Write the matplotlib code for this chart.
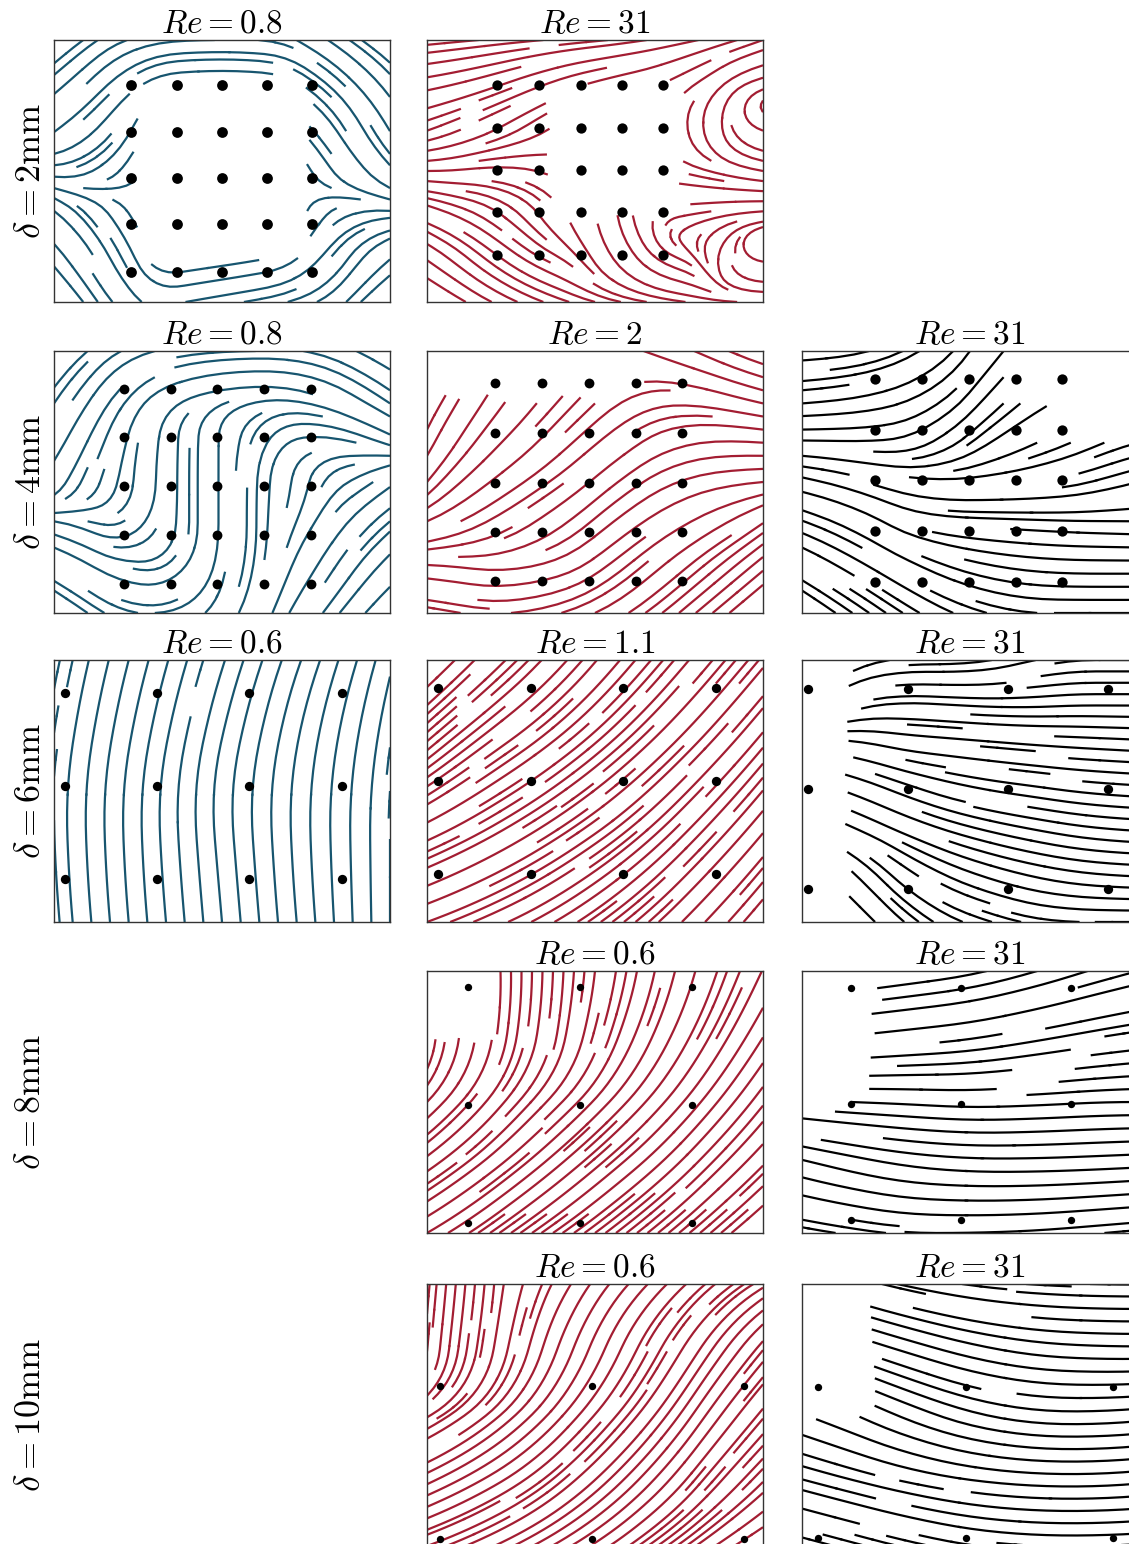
import numpy as np
import matplotlib
matplotlib.use("Agg")
import matplotlib.pyplot as plt

plt.rcParams['mathtext.fontset'] = 'cm'
plt.rcParams['font.family'] = 'serif'

BLUE = '#17556f'
RED = '#a31d32'
BLACK = '#000000'

# flow direction in degrees on a coarse grid
# rows go from the top of a panel to the bottom, None = no streamlines there

# delta = 2mm
ang_d2_re08 = [
    [40, 35, 15, 3, 0, -5, -30, -35, -35],
    [40, 45, 35, 5, 0, -5, -35, -45, -50],
    [35, 45, 65, None, None, None, -45, -60, -60],
    [0, 30, 60, None, None, None, -60, -50, -45],
    [-40, -50, -60, None, None, None, 70, 20, 0],
    [-50, -60, -65, 8, 8, 10, 45, 55, 40],
    [-45, -55, -45, 10, 10, 10, 20, 45, 40],
]
ang_d2_re31 = [
    [5, 5, 5, 5, 5, 8, 10, 15, 20],
    [10, 15, 20, 20, 15, 15, 30, 40, 15],
    [20, 25, 30, 35, None, None, 95, 95, 160],
    [0, 5, -5, -20, None, None, 165, 165, 170],
    [-20, -25, -40, -60, -80, -80, 190, 190, 185],
    [-35, -40, -35, -25, -60, -50, -20, 260, -10],
    [-30, -30, -25, -20, -15, -10, -8, -5, 0],
]
# delta = 4mm
ang_d4_re08 = [
    [45, 40, 20, 8, 3, 0, -10, -25, -30],
    [55, 55, 45, 20, 10, 0, -15, -30, -35],
    [60, 65, 80, 88, 90, 60, 5, -15, -25],
    [55, 70, 88, 90, 90, 88, 80, 30, 35],
    [-15, -20, 45, 90, 90, 90, 60, 50, 40],
    [-30, -30, -10, 45, 80, 80, 60, 55, 45],
    [-35, -35, -10, 20, 60, 70, 55, 50, 45],
]
ang_d4_re2 = [
    [None, None, None, None, None, -20, -25, -25, -20],
    [60, 60, 55, 50, 45, 20, -5, -15, -15],
    [65, 55, 45, 45, 40, 35, 15, 0, -5],
    [50, 40, 35, 35, 40, 35, 20, 8, 5],
    [20, 25, 30, 35, 40, 35, 30, 30, 35],
    [-5, -8, 5, 15, 35, 40, 40, 40, 40],
    [-10, -10, 5, 15, 25, 35, 40, 40, 40],
]
ang_d4_re31 = [
    [3, 8, 20, 35, 55, 50, None, None, None],
    [5, 8, 15, 30, 50, 45, 30, None, None],
    [0, 0, 5, 30, 40, 30, 25, 25, 15],
    [-12, -15, -15, -5, 3, 5, 8, 15, 15],
    [-20, -25, -30, -10, -3, -3, -3, -2, -2],
    [-30, -30, -30, -25, -15, -8, -3, 0, 0],
    [-35, -35, -35, -30, -20, -10, 0, 0, 0],
]
# delta = 6mm
ang_d6_re06 = [
    [78, 75, 72, 70, 75],
    [82, 80, 78, 80, 82],
    [92, 92, 95, 92, 90],
    [95, 95, 95, 95, 90],
]
ang_d6_re11 = [
    [45, 45, 50, 50, 50],
    [40, 35, 40, 45, 50],
    [25, 30, 35, 45, 50],
    [20, 25, 35, 45, 50],
]
ang_d6_re31 = [
    [None, 30, 10, 0, 5, 15, 10, 0, 0],
    [None, 25, 5, -3, -3, 0, 3, 0, 0],
    [None, -10, -12, -5, -5, -5, -4, -3, -3],
    [None, -20, -22, -18, -12, -8, -8, -5, -3],
    [None, -25, -25, -20, -15, -12, -10, -6, -3],
    [None, -45, -45, -30, -20, -15, -10, -5, -2],
    [None, -45, -45, -35, -20, -15, -5, 0, 0],
]
# delta = 8mm
ang_d8_re06 = [
    [None, 92, 88, 80, 75, 65],
    [85, 82, 80, 68, 62, 58],
    [45, 50, 45, 47, 50, 52],
    [35, 38, 40, 40, 45, 45],
    [30, 35, 35, 38, 40, 40],
]
ang_d8_re31 = [
    [None, 8, 8, 15, 18, 15],
    [None, 6, 6, 10, 10, 8],
    [-3, -2, -3, 2, 3, 0],
    [-15, -12, -5, 0, 2, 3],
    [-10, -8, 0, 2, 5, 5],
]
# delta = 10mm
ang_d10_re06 = [
    [85, 85, 60, 48, 42, 30],
    [85, 80, 70, 65, 57, 50],
    [30, 40, 48, 50, 55, 50],
    [25, 30, 40, 45, 50, 45],
    [20, 25, 30, 35, 35, 30],
]
ang_d10_re31 = [
    [None, -15, -10, -5, -2, 0],
    [None, -18, -16, -10, -3, 0],
    [-20, -25, -20, -10, 0, 5],
    [-15, -14, -10, -5, 0, 5],
    [-15, -15, -12, -5, 0, 3],
]

# pillar positions (fraction of panel width / height from bottom)
pil_x_d2_re08 = [0.229, 0.366, 0.5, 0.634, 0.768]
pil_y_d2_re08 = [0.827, 0.65, 0.473, 0.296, 0.115]
pil_x_d2_re31 = [0.209, 0.334, 0.457, 0.579, 0.701]
pil_y_d2_re31 = [0.827, 0.665, 0.504, 0.342, 0.181]
pil_x_d4_re08 = [0.208, 0.347, 0.486, 0.625, 0.764]
pil_y_d4_re08 = [0.856, 0.67, 0.485, 0.299, 0.11]
pil_x_d4_re2 = [0.203, 0.342, 0.481, 0.621, 0.76]
pil_y_d4_re2 = [0.876, 0.686, 0.497, 0.309, 0.123]
pil_x_d4_re31 = [0.218, 0.357, 0.496, 0.636, 0.775]
pil_y_d4_re31 = [0.895, 0.7, 0.506, 0.312, 0.119]
pil_x_d6_re06 = [0.033, 0.307, 0.581, 0.856]
pil_y_d6_re06 = [0.875, 0.518, 0.164]
pil_x_d6_re11 = [0.034, 0.31, 0.584, 0.861]
pil_y_d6_re11 = [0.895, 0.54, 0.185]
pil_x_d6_re31 = [0.019, 0.314, 0.613, 0.911]
pil_y_d6_re31 = [0.889, 0.508, 0.125]
pil_x_d8_re06 = [0.123, 0.455, 0.79]
pil_y_d8_re06 = [0.94, 0.49, 0.038]
pil_x_d8_re31 = [0.145, 0.474, 0.8]
pil_y_d8_re31 = [0.934, 0.493, 0.051]
pil_x_d10_re06 = [0.039, 0.492, 0.944]
pil_y_d10_re06 = [0.612, 0.028]
pil_x_d10_re31 = [0.049, 0.487, 0.927]
pil_y_d10_re31 = [0.605, 0.032]

row_labels = ['2', '4', '6', '8', '10']
colors = [BLUE, RED, BLACK]

# (row, col, Re, angles, pillars x, pillars y, density, dot size)
panels = [
    (0, 0, '0.8', ang_d2_re08, pil_x_d2_re08, pil_y_d2_re08, 0.8, 60),
    (0, 1, '31', ang_d2_re31, pil_x_d2_re31, pil_y_d2_re31, 0.9, 55),
    (1, 0, '0.8', ang_d4_re08, pil_x_d4_re08, pil_y_d4_re08, 0.7, 50),
    (1, 1, '2', ang_d4_re2, pil_x_d4_re2, pil_y_d4_re2, 0.7, 50),
    (1, 2, '31', ang_d4_re31, pil_x_d4_re31, pil_y_d4_re31, 0.7, 55),
    (2, 0, '0.6', ang_d6_re06, pil_x_d6_re06, pil_y_d6_re06, 0.65, 45),
    (2, 1, '1.1', ang_d6_re11, pil_x_d6_re11, pil_y_d6_re11, 1.0, 45),
    (2, 2, '31', ang_d6_re31, pil_x_d6_re31, pil_y_d6_re31, 0.8, 45),
    (3, 1, '0.6', ang_d8_re06, pil_x_d8_re06, pil_y_d8_re06, 1.1, 28),
    (3, 2, '31', ang_d8_re31, pil_x_d8_re31, pil_y_d8_re31, 0.7, 28),
    (4, 1, '0.6', ang_d10_re06, pil_x_d10_re06, pil_y_d10_re06, 1.2, 28),
    (4, 2, '31', ang_d10_re31, pil_x_d10_re31, pil_y_d10_re31, 0.75, 28),
]

FIG_W, FIG_H = 1129, 1544
col_left = [54, 427, 802]
row_top = [40, 351, 660, 971, 1284]
AX_W, AX_H = 336, 262
W = AX_W / AX_H

fig = plt.figure(figsize=(FIG_W / 100, FIG_H / 100), dpi=100)

for r, c, re, ang, pxs, pys, dens, ds in panels:
    ax = fig.add_axes([col_left[c] / FIG_W, 1 - (row_top[r] + AX_H) / FIG_H,
                       AX_W / FIG_W, AX_H / FIG_H])
    a = np.radians(np.array(ang, dtype=float))[::-1]
    ny, nx = a.shape
    x = np.linspace(0, W, nx)
    y = np.linspace(0, 1, ny)
    ax.streamplot(x, y, np.cos(a), np.sin(a), density=dens, color=colors[c],
                  linewidth=1.6, arrowstyle='-', arrowsize=0.1)
    gx, gy = np.meshgrid(np.array(pxs) * W, pys)
    ax.scatter(gx.ravel(), gy.ravel(), s=ds, color='black', zorder=5, lw=0)
    ax.set_xlim(0, W)
    ax.set_ylim(0, 1)
    ax.set_xticks([])
    ax.set_yticks([])
    for sp in ax.spines.values():
        sp.set_color('#333333')
        sp.set_linewidth(1.0)
    ax.set_title(f'$Re = {re}$', fontsize=24, pad=3)

for r, d in enumerate(row_labels):
    yc = 1 - (row_top[r] + AX_H / 2) / FIG_H
    fig.text(30 / FIG_W, yc, rf'$\delta = {d}\mathrm{{mm}}$', rotation=90,
             ha='center', va='center', fontsize=26)

fig.savefig('out.png', dpi=100)
